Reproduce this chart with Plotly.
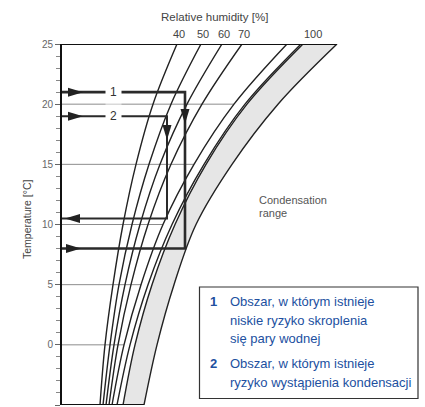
import plotly.graph_objects as go

# ---------------- data ----------------
temps = [-5, 0, 5, 10, 15, 20, 25]          # air temperature, °C
rh_levels = [40, 50, 60, 70, 80, 90, 100]   # relative humidity curves, %
# horizontal diagram position of each curve at the temperatures above
rh_40 = [100, 105, 113, 123, 136, 153, 177]
rh_50 = [103, 110, 119, 132, 149, 171, 201]
rh_60 = [106, 114, 125, 140, 160, 187, 222]
rh_70 = [109, 118, 131, 148, 171, 202, 242]
rh_80 = [112, 124, 141, 163, 194, 234, 287]
rh_90 = [117, 130, 148, 172, 204, 245, 301]
rh_100 = [123, 135, 152, 175, 206, 247, 303]
condensation_edge = [144, 157, 174, 196, 232, 278, 337]
labeled_rh = [40, 50, 60, 70, 100]
y_ticks = [-5, 0, 5, 10, 15, 20, 25]
grid_temps = [0, 5, 10, 15, 20]

# reading paths: diagram x / temperature
path1_x = [62, 185, 185, 62]
path1_t = [21, 21, 8, 8]
path2_x = [62, 167, 167, 62]
path2_t = [19, 19, 10.5, 10.5]

legend_items = [
    ("1", ["Obszar, w którym istnieje", "niskie ryzyko skroplenia", "się pary wodnej"]),
    ("2", ["Obszar, w którym istnieje", "ryzyko wystąpienia kondensacji"]),
]

# ---------------- layout constants ----------------
W, H = 425, 407
ML, MR, MT, MB = 62, 0, 44, 2
X0, X1 = 62, 425
T0, T1 = -5, 25
PW, PH = W - ML - MR, H - MT - MB
PX_PER_T = PH / (T1 - T0)
FONT = "Liberation Sans, Arial, sans-serif"
DARK = "#222222"
BLUE = "#21509f"


def px_to_t(py):
    return T1 - (py - MT) / PX_PER_T


def paper_x(px):
    return (px - ML) / PW


def paper_y(py):
    return (H - MB - py) / PH


curves = [rh_40, rh_50, rh_60, rh_70, rh_80, rh_90, rh_100]
fig = go.Figure()

# gray condensation band (between 100 % curve and the outer edge)
fig.add_trace(go.Scatter(x=rh_100, y=temps, mode="lines", line=dict(width=0, shape="spline"),
                         hoverinfo="skip", showlegend=False))
fig.add_trace(go.Scatter(x=condensation_edge, y=temps, mode="lines", fill="tonextx",
                         fillcolor="#e6e6e6", line=dict(width=1.4, color=DARK, shape="spline"),
                         hoverinfo="skip", showlegend=False, cliponaxis=False))

# horizontal grid lines ending at the 80 % curve
for t in grid_temps:
    xe = rh_80[temps.index(t)]
    fig.add_trace(go.Scatter(x=[X0, xe], y=[t, t], mode="lines",
                             line=dict(color="#8c8c8c", width=1), hoverinfo="skip",
                             showlegend=False))

# RH curves
for rh, xs in zip(rh_levels, curves):
    fig.add_trace(go.Scatter(x=xs, y=temps, mode="lines", name=f"{rh} %",
                             line=dict(color=DARK, width=1.4, shape="spline"),
                             showlegend=False, cliponaxis=False))

# frame lines at top and bottom
fig.add_trace(go.Scatter(x=[X0, condensation_edge[-1]], y=[T1, T1], mode="lines",
                         line=dict(color="#111111", width=2), showlegend=False, cliponaxis=False))
fig.add_trace(go.Scatter(x=[X0, condensation_edge[0]], y=[T0, T0], mode="lines",
                         line=dict(color="#111111", width=2), showlegend=False, cliponaxis=False))

# reading paths
for px, pt, w in [(path1_x, path1_t, 2.6), (path2_x, path2_t, 2.0)]:
    fig.add_trace(go.Scatter(x=px, y=pt, mode="lines", line=dict(color="#2a2a2a", width=w),
                             showlegend=False, cliponaxis=False))


def arrowhead(tip_x, tip_t, direction, length=15, half=4.5):
    ht = half / PX_PER_T
    lt = length / PX_PER_T
    if direction == "right":
        xs = [tip_x, tip_x - length, tip_x - length, tip_x]
        ts = [tip_t, tip_t + ht, tip_t - ht, tip_t]
    elif direction == "left":
        xs = [tip_x, tip_x + length, tip_x + length, tip_x]
        ts = [tip_t, tip_t + ht, tip_t - ht, tip_t]
    else:  # down
        xs = [tip_x, tip_x - half, tip_x + half, tip_x]
        ts = [tip_t, tip_t + lt, tip_t + lt, tip_t]
    fig.add_trace(go.Scatter(x=xs, y=ts, mode="lines", fill="toself", fillcolor="#222222",
                             line=dict(width=0, color="#222222"), showlegend=False,
                             hoverinfo="skip", cliponaxis=False))


arrowhead(83, path1_t[0], "right")
arrowhead(path1_x[1], px_to_t(124), "down")
arrowhead(81, path1_t[2], "right")
arrowhead(83, path2_t[0], "right")
arrowhead(path2_x[1], px_to_t(140), "down")
arrowhead(65, path2_t[2], "left")

ann = []


def text_px(px, py, text, size, color, xanchor="center", **kw):
    ann.append(dict(xref="paper", yref="paper", x=paper_x(px), y=paper_y(py), text=text,
                    showarrow=False, xanchor=xanchor, yanchor="middle",
                    font=dict(size=size, color=color, family=FONT), **kw))


# labels on the reading paths
for lab, t in [("1", path1_t[0]), ("2", path2_t[0])]:
    ann.append(dict(x=113, y=t, text=lab, showarrow=False, bgcolor="white", borderpad=4,
                    xanchor="center", yanchor="middle",
                    font=dict(size=12, color="#333333", family=FONT)))

# RH labels on top
for rh, xs in zip(rh_levels, curves):
    if rh in labeled_rh:
        off = 10 if rh == 100 else 1.5
        text_px(xs[-1] + off, 34, str(rh), 11, "#444444")

text_px(214, 17, "Relative humidity [%]", 11.5, "#444444")
text_px(27, 219, "Temperature [°C]", 10.5, "#444444", textangle=-90)
text_px(257, 200, "Condensation", 11, "#555555", xanchor="left")
text_px(257, 212.5, "range", 11, "#555555", xanchor="left")

# legend box text
line_px = [301, 320, 338.5, 363.5, 382]
k = 0
for num, lines in legend_items:
    for i, line in enumerate(lines):
        py = line_px[k]
        if i == 0:
            text_px(213, py, f"<b>{num}</b>", 13, BLUE)
        text_px(227.5, py, line, 13, BLUE, xanchor="left")
        k += 1

shapes = [dict(type="rect", xref="x", yref="y", x0=199.5, x1=418, y0=px_to_t(287),
               y1=px_to_t(398.5), line=dict(color="#333333", width=1.2), fillcolor="white",
               layer="above")]

fig.update_layout(
    width=W, height=H, margin=dict(l=ML, r=MR, t=MT, b=MB, autoexpand=False),
    paper_bgcolor="white", plot_bgcolor="white",
    annotations=ann, shapes=shapes,
    xaxis=dict(range=[X0, X1], visible=False, fixedrange=True),
    yaxis=dict(range=[T0, T1], tickvals=y_ticks, showgrid=False, zeroline=False,
               automargin=False, fixedrange=True,
               showline=True, linecolor="#111111", linewidth=2, ticks="outside", ticklen=5,
               tickcolor="#666666", tickwidth=1,
               tickfont=dict(size=10, color="#666666", family=FONT),
               minor=dict(dtick=1, ticks="outside", ticklen=4, tickcolor="#888888",
                          showgrid=False)),
    font=dict(family=FONT),
)

fig.write_html("out.html", config={"displayModeBar": False},
               post_script="document.body.style.margin='0px';")
